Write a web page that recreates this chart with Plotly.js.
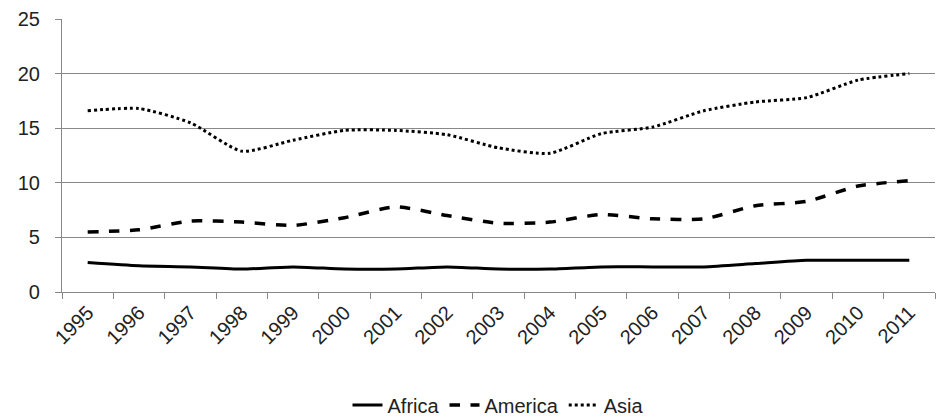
<!DOCTYPE html>
<html>
<head>
<meta charset="utf-8">
<script src="https://cdn.plot.ly/plotly-3.0.1.min.js"></script>
<style>html,body{margin:0;padding:0;background:#fff}</style>
</head>
<body>
<div id="chart" style="width:944px;height:418px"></div>
<script>
const years = ['1995','1996','1997','1998','1999','2000','2001','2002','2003','2004','2005','2006','2007','2008','2009','2010','2011'];
const africa = [2.7,2.4,2.3,2.1,2.3,2.1,2.1,2.3,2.1,2.1,2.3,2.3,2.3,2.6,2.9,2.9,2.9];
const america = [5.5,5.7,6.5,6.4,6.1,6.8,7.8,7.0,6.3,6.4,7.1,6.7,6.7,7.9,8.3,9.7,10.2];
const asia = [16.6,16.8,15.5,12.9,13.9,14.8,14.8,14.4,13.2,12.7,14.5,15.1,16.6,17.4,17.8,19.4,20.0];

const mk = (name, y, dash, width) => ({
  type: 'scatter', mode: 'lines', name, x: years, y,
  line: { color: '#000', width, dash, shape: 'spline', smoothing: 0.6 }
});

const traces = [
  mk('Africa', africa, 'solid', 3),
  mk('America', america, 'dash', 3.5),
  mk('Asia', asia, 'dot', 3)
];

const layout = {
  width: 944, height: 418,
  margin: { l: 62, r: 9, t: 19, b: 126, autoexpand: false },
  paper_bgcolor: '#fff', plot_bgcolor: '#fff',
  font: { family: 'Liberation Sans, Arial, sans-serif', size: 20, color: '#222' },
  showlegend: true,
  legend: { orientation: 'h', x: 0.5, xanchor: 'center', y: 0.031, yref: 'container', yanchor: 'middle',
            font: { size: 20 } },
  xaxis: {
    type: 'category', range: [-0.5, 16.5], tickangle: -45, automargin: false,
    tickson: 'boundaries', ticks: 'outside', ticklen: 6, tickcolor: '#888',
    showline: true, linecolor: '#888', showgrid: false, zeroline: false
  },
  yaxis: {
    range: [0, 25], dtick: 5, showgrid: true, gridcolor: '#888', gridwidth: 1, automargin: false,
    showline: true, linecolor: '#888', ticks: 'outside', ticklen: 6, tickcolor: '#888',
    zeroline: false, ticksuffix: '  '
  }
};

Plotly.newPlot('chart', traces, layout, { displayModeBar: false, staticPlot: true });
</script>
</body>
</html>
